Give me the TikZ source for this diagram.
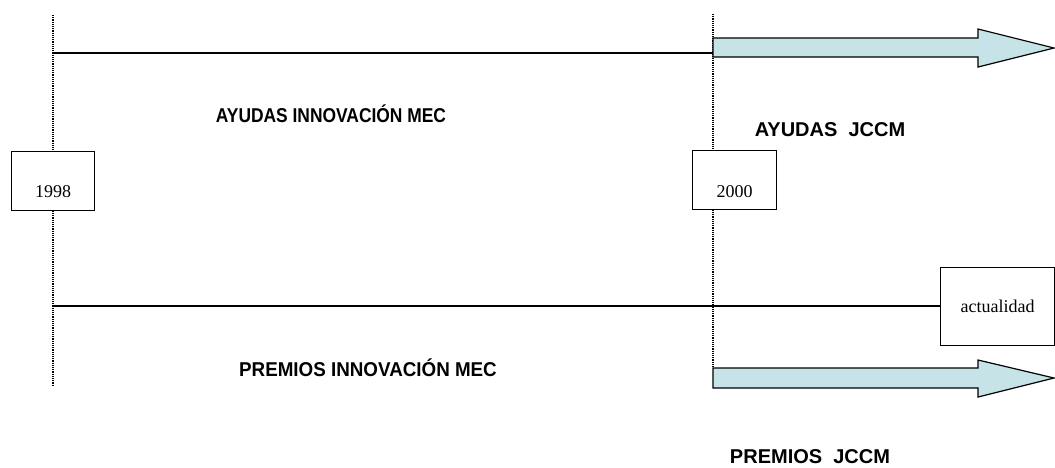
\documentclass[tikz,border=0pt]{standalone}
\usepackage{fontspec}
\usepackage{graphicx}
\setmainfont{Liberation Serif}
\newfontfamily\labelfont{Liberation Sans}
\definecolor{arrowfill}{RGB}{198,228,232}
\tikzset{
  timeline/.style={line width=1.3pt, black},
  guide/.style={line width=1.3pt, black, dash pattern=on 1.2pt off 1pt},
  yearbox/.style={draw, line width=1.2pt, fill=white, inner sep=0pt,
    font=\fontsize{18}{20}\selectfont},
  period/.style={inner sep=0pt, font=\labelfont\bfseries\fontsize{20}{22}\selectfont},
  bigarrow/.style={draw, line width=1.2pt, fill=arrowfill, line join=miter}
}
\begin{document}
\begin{tikzpicture}[x=1pt,y=-1pt]
\useasboundingbox (0,0) rectangle (1055,467);
% guide lines
\coordinate (g1top) at (53,15);
\coordinate (g1bot) at (53,385);
\coordinate (g2top) at (713,14);
\coordinate (g2bot) at (713,368);
\draw[guide] (g1top) -- (g1bot);
\draw[guide] (g2top) -- (g2bot);
% top timeline
\coordinate (t1) at (53,53);
\coordinate (t2) at (713,53);
\draw[timeline] (t1) -- (t2);
% arrows
\draw[bigarrow] (713,38) -- (978,38) -- (978,29) -- (1054,48) -- (978,67) -- (978,57) -- (713,57) -- cycle;
\draw[bigarrow] (713,368) -- (978,368) -- (978,360) -- (1054,378) -- (978,397) -- (978,388) -- (713,388) -- cycle;
% boxes
\node[yearbox, minimum width=83pt, text height=46pt, text depth=13pt, anchor=north west] (y1998) at (11,151) {1998};
\node[yearbox, minimum width=84pt, text height=47pt, text depth=12pt, anchor=north west] (y2000) at (692,150) {2000};
\node[yearbox, minimum width=114pt, minimum height=78pt, anchor=north west] (now) at (940,267) {actualidad};
% bottom timeline
\coordinate (b1) at (53,306);
\draw[timeline] (b1) -- (now.west |- b1);
% labels
\node[period] (ayudasmec) at (331,114) {\scalebox{0.87}[1]{AYUDAS INNOVACIÓN MEC}};
\node[period] (premiosmec) at (368,368) {\scalebox{0.94}[1]{PREMIOS INNOVACIÓN MEC}};
\node[period] (ayudasjccm) at (830,129.5) {AYUDAS\ \ JCCM};
\node[period] (premiosjccm) at (810,457) {PREMIOS\ \ JCCM};
\end{tikzpicture}
\end{document}
